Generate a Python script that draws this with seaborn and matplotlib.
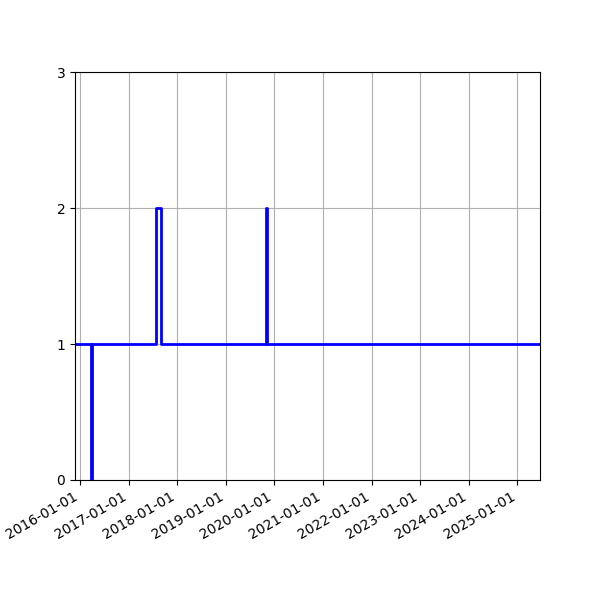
import pandas as pd
import matplotlib
matplotlib.use("Agg")
import matplotlib.pyplot as plt
import matplotlib.dates as mdates
import seaborn as sns

# step series: dates where the value changes
dates = ["2015-11-26", "2016-03-26", "2016-03-29", "2017-07-30", "2017-09-03",
         "2019-11-01", "2019-11-04", "2025-06-20"]
values = [1, 0, 1, 2, 1, 2, 1, 1]

df = pd.DataFrame({"date": pd.to_datetime(dates), "value": values})

fig, ax = plt.subplots(figsize=(6, 6), dpi=100)
sns.lineplot(data=df, x="date", y="value", ax=ax, color="blue",
             drawstyle="steps-post", linewidth=2)

ax.set_xlim(df["date"].iloc[0], df["date"].iloc[-1])
ax.set_ylim(0, 3)
ax.set_yticks([0, 1, 2, 3])
ax.xaxis.set_major_locator(mdates.YearLocator())
ax.xaxis.set_major_formatter(mdates.DateFormatter("%Y-%m-%d"))
ax.set_xlabel("")
ax.set_ylabel("")
ax.grid(True)
fig.autofmt_xdate()

plt.savefig("out.png")
